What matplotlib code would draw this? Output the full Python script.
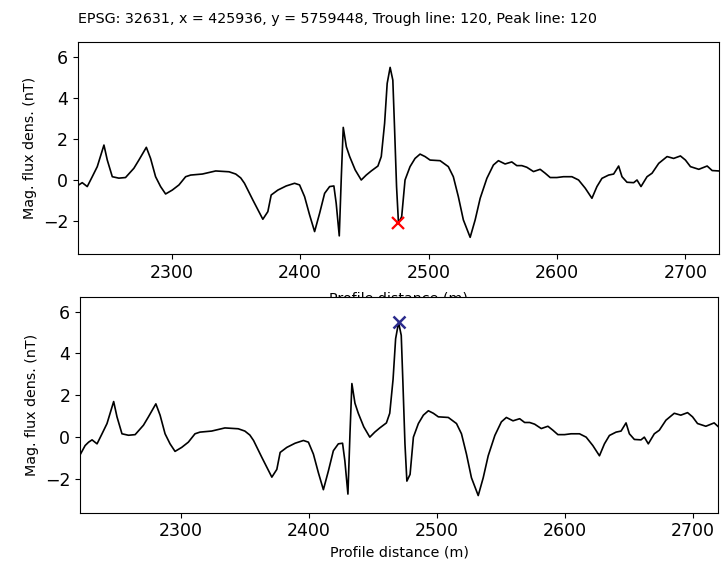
import numpy as np
import matplotlib
matplotlib.use("Agg")
import matplotlib.pyplot as plt

# profile (distance in m, magnetic flux density in nT)
dist = np.array([
    2221, 2225, 2227.7, 2230.4, 2234.3, 2238.2, 2242.1, 2247.3, 2249.9, 2253.8,
    2258.9, 2264.1, 2270.6, 2274.5, 2280.3, 2283.6, 2287.5, 2291.4, 2295.3, 2300.5,
    2305.7, 2310.9, 2314.8, 2323.9, 2334.3, 2344.7, 2349.9, 2353.8, 2356.7, 2363.2,
    2371, 2374.9, 2377.5, 2382.7, 2389.2, 2395.7, 2399.6, 2403.5, 2407.4, 2411.3,
    2415.2, 2419.1, 2423, 2426.3, 2428.1, 2430.5, 2432.1, 2433.6, 2436, 2438.6,
    2442.9, 2447.6, 2451.5, 2455.4, 2460.6, 2463.2, 2465.8, 2467.8, 2470.1, 2472.2,
    2473.5, 2475.1, 2476.6, 2479.1, 2481.7, 2485.6, 2489.5, 2493.4, 2497.3, 2501.2,
    2509, 2515.4, 2519.3, 2523.2, 2527.1, 2532.4, 2536.3, 2540.2, 2545.4, 2550.5,
    2554.4, 2559.6, 2564.8, 2568.7, 2572.6, 2576.5, 2581.7, 2586.9, 2590.8, 2594.7,
    2599.9, 2605, 2611.6, 2616.8, 2622, 2627.2, 2631.1, 2635, 2640.2, 2644.1,
    2648, 2650.6, 2654.5, 2659.7, 2662.3, 2665.4, 2670.1, 2674, 2679.2, 2685.7,
    2690.8, 2696.1, 2700, 2703.9, 2710.4, 2716.9, 2720.8, 2726,
])
mag = np.array([
    -0.85, -0.4, -0.24, -0.13, -0.32, 0.16, 0.65, 1.70, 0.97, 0.16,
    0.09, 0.12, 0.57, 0.97, 1.59, 1.05, 0.16, -0.32, -0.68, -0.49,
    -0.24, 0.16, 0.24, 0.29, 0.44, 0.40, 0.29, 0.10, -0.16, -0.97,
    -1.91, -1.54, -0.73, -0.49, -0.29, -0.16, -0.24, -0.81, -1.70, -2.51,
    -1.62, -0.65, -0.32, -0.29, -1.13, -2.72, 0.16, 2.56, 1.62, 1.14,
    0.49, 0.0, 0.24, 0.44, 0.68, 1.14, 2.76, 4.70, 5.48, 4.86,
    2.60, -0.32, -2.10, -1.78, 0.0, 0.65, 1.05, 1.26, 1.14, 0.97,
    0.94, 0.65, 0.16, -0.81, -1.94, -2.79, -1.94, -0.89, 0.08, 0.73,
    0.94, 0.78, 0.88, 0.70, 0.70, 0.62, 0.41, 0.52, 0.33, 0.12,
    0.12, 0.16, 0.16, 0.0, -0.40, -0.89, -0.32, 0.08, 0.24, 0.29,
    0.68, 0.16, -0.11, -0.13, 0.0, -0.32, 0.16, 0.33, 0.81, 1.14,
    1.05, 1.17, 0.97, 0.65, 0.52, 0.68, 0.46, 0.44,
])

trough_idx = 62          # picked trough sample
peak_idx = int(np.argmax(mag))

title = "EPSG: 32631, x = 425936, y = 5759448, Trough line: 120, Peak line: 120"

fig = plt.figure(figsize=(7.21, 5.72), dpi=100)
ax1 = fig.add_axes([0.108, 0.556, 0.889, 0.370])
ax2 = fig.add_axes([0.111, 0.104, 0.885, 0.377])

for ax in (ax1, ax2):
    ax.plot(dist, mag, color='black', linewidth=1.2)
    ax.set_ylim(-3.6, 6.7)
    ax.set_yticks([-2, 0, 2, 4, 6])
    ax.set_xticks([2300, 2400, 2500, 2600, 2700])
    ax.tick_params(labelsize=12.5)
    ax.set_ylabel("Mag. flux dens. (nT)", fontsize=10.3)

# top label sits partly under the lower panel, as in the original
ax1.set_xlabel("Profile distance (m)", fontsize=10.3, labelpad=7)
ax2.set_xlabel("Profile distance (m)", fontsize=10.3)

ax1.set_xlim(2227, 2726)
ax2.set_xlim(2221, 2720)

ax1.plot(dist[trough_idx], mag[trough_idx], 'x', color='red', markersize=9, mew=1.6)
ax2.plot(dist[peak_idx], mag[peak_idx], 'x', color='#2b2b8c', markersize=9, mew=1.8)

ax1.set_title(title, loc='left', fontsize=10.3, pad=14)

fig.savefig("out.png", dpi=100)
